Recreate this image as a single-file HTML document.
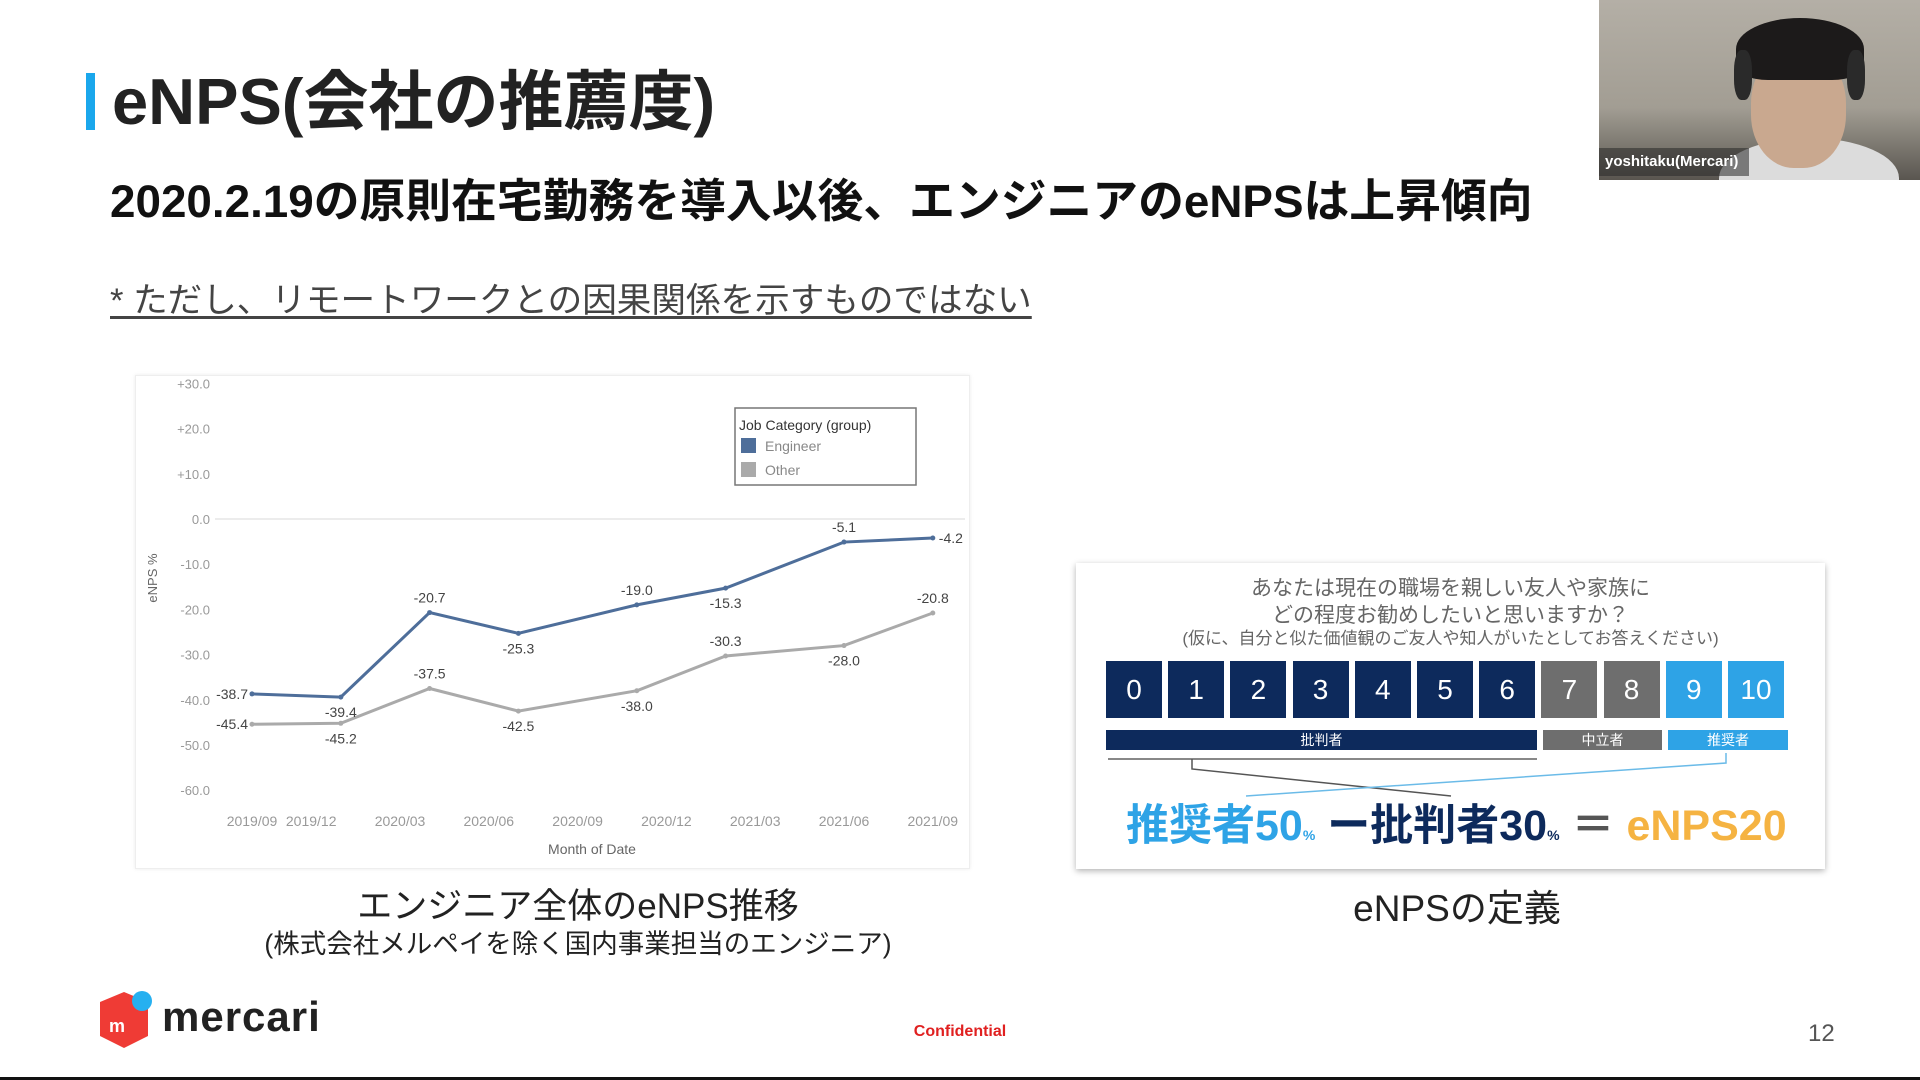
<!DOCTYPE html>
<html><head><meta charset="utf-8">
<style>
*{margin:0;padding:0;box-sizing:border-box}
body{width:1920px;height:1080px;background:#fff;position:relative;overflow:hidden;font-family:"Liberation Sans","Noto Sans CJK JP",sans-serif;color:#222}
.abs{position:absolute}
</style></head><body>
<div class="abs" style="left:86px;top:73px;width:9px;height:57px;background:#1aa7ec"></div>
<div class="abs" style="left:112px;top:64px;font-size:65px;font-weight:bold;color:#222;line-height:76px;white-space:nowrap">eNPS(会社の推薦度)</div>
<div class="abs" style="left:110px;top:174px;font-size:45.8px;font-weight:bold;color:#111;line-height:56px;white-space:nowrap">2020.2.19の原則在宅勤務を導入以後、エンジニアのeNPSは上昇傾向</div>
<div class="abs" style="left:110px;top:280px;font-size:34.6px;color:#444;line-height:42px;white-space:nowrap;text-decoration:underline;text-underline-offset:4px">* ただし、リモートワークとの因果関係を示すものではない</div>

<div class="abs" style="left:135px;top:375px;width:835px;height:494px;border:1px solid #eee;box-shadow:0 0 4px rgba(0,0,0,0.08)"></div>
<svg class="abs" style="left:0;top:0" width="1920" height="1080" id="chart"></svg>

<div class="abs" style="left:228px;top:885px;width:700px;text-align:center;font-size:35px;color:#222;line-height:44px">エンジニア全体のeNPS推移</div>
<div class="abs" style="left:178px;top:928px;width:800px;text-align:center;font-size:26.5px;color:#222;line-height:32px">(株式会社メルペイを除く国内事業担当のエンジニア)</div>

<div class="abs" style="left:1076px;top:563px;width:749px;height:306px;background:#fff;box-shadow:0 2px 6px rgba(0,0,0,0.3)">
  <div class="abs" style="left:0;top:12px;width:749px;text-align:center;font-size:21px;color:#666;line-height:27px">あなたは現在の職場を親しい友人や家族に</div>
  <div class="abs" style="left:0;top:39px;width:749px;text-align:center;font-size:21px;color:#666;line-height:27px">どの程度お勧めしたいと思いますか？</div>
  <div class="abs" style="left:0;top:65px;width:749px;text-align:center;font-size:17px;color:#666;line-height:22px">(仮に、自分と似た価値観のご友人や知人がいたとしてお答えください)</div>
  <div id="scores"></div>
  <div class="abs" style="left:30px;top:167px;width:431px;height:20px;background:#0d2a5c;color:#fff;font-size:14px;text-align:center;line-height:20px">批判者</div>
  <div class="abs" style="left:467px;top:167px;width:119px;height:20px;background:#6e6e6e;color:#fff;font-size:14px;text-align:center;line-height:20px">中立者</div>
  <div class="abs" style="left:592px;top:167px;width:120px;height:20px;background:#2ea3e6;color:#fff;font-size:14px;text-align:center;line-height:20px">推奨者</div>
  <svg class="abs" style="left:0;top:0" width="749" height="306">
    <line x1="32" y1="196" x2="461" y2="196" stroke="#888" stroke-width="2"/>
    <polyline points="116,196 116,206 375,233" fill="none" stroke="#555" stroke-width="1.5"/>
    <polyline points="650,190 650,200 170,233" fill="none" stroke="#6bbbe8" stroke-width="1.5"/>
  </svg>
  <div class="abs" style="left:50px;top:233px;white-space:nowrap;font-size:43px;font-weight:bold;line-height:60px"><span style="color:#2ea3e6">推奨者50<small style="font-size:14px">%</small></span> <span style="color:#0d2a5c">ー批判者30<small style="font-size:14px">%</small></span> <span style="color:#555">＝</span> <span style="color:#f5b342">eNPS20</span></div>
</div>
<div class="abs" style="left:1207px;top:886px;width:500px;text-align:center;font-size:37px;color:#222;line-height:46px">eNPSの定義</div>

<div class="abs" style="left:1599px;top:0;width:321px;height:180px;background:linear-gradient(180deg,#b4afa6,#a29d93 60%,#5a5650);overflow:hidden">
  <div class="abs" style="left:120px;top:138px;width:180px;height:80px;border-radius:50% 50% 0 0;background:#dcdcdc"></div>
  <div class="abs" style="left:152px;top:50px;width:95px;height:118px;border-radius:45%;background:#c9a88f"></div>
  <div class="abs" style="left:137px;top:18px;width:128px;height:62px;border-radius:50% 50% 25% 25%;background:#1c1a1a"></div>
  <div class="abs" style="left:135px;top:50px;width:18px;height:50px;border-radius:40%;background:#2a2a2a"></div>
  <div class="abs" style="left:248px;top:50px;width:18px;height:50px;border-radius:40%;background:#2a2a2a"></div>
  <div class="abs" style="left:0;top:148px;width:150px;height:28px;background:rgba(40,40,40,0.55);color:#fff;font-size:15px;font-weight:bold;line-height:28px;padding-left:6px">yoshitaku(Mercari)</div>
</div>

<div class="abs" style="left:96px;top:990px;width:240px;height:60px">
  <svg width="60" height="60" style="position:absolute;left:0;top:0"><polygon points="28,2 52,12 52,46 28,58 4,46 4,12" fill="#ef3b35"/><circle cx="46" cy="11" r="10" fill="#26b0f0"/><text x="13" y="42" font-size="18" fill="#fff" font-family="Liberation Sans" font-weight="bold">m</text></svg>
  <div class="abs" style="left:66px;top:2px;font-size:42px;font-weight:bold;color:#222;line-height:50px;letter-spacing:1px">mercari</div>
</div>
<div class="abs" style="left:900px;top:1023px;width:120px;text-align:center;font-size:16px;font-weight:bold;color:#e02020">Confidential</div>
<div class="abs" style="left:1808px;top:1020px;font-size:24px;color:#555">12</div>
<div class="abs" style="left:0;top:1077px;width:1920px;height:3px;background:#111"></div>

<script>
const months = [0,3,6,9,13,16,20,23];
const engineer = [-38.7,-39.4,-20.7,-25.3,-19.0,-15.3,-5.1,-4.2];
const other = [-45.4,-45.2,-37.5,-42.5,-38.0,-30.3,-28.0,-20.8];
const yTicks = [30,20,10,0,-10,-20,-30,-40,-50,-60];
const xTickLabels = ['2019/09','2019/12','2020/03','2020/06','2020/09','2020/12','2021/03','2021/06','2021/09'];
const xTickMonths = [0,2,5,8,11,14,17,20,23];

const NS='http://www.w3.org/2000/svg';
const svg=document.getElementById('chart');
const X=m=>252+m*29.6;
const Y=v=>519-v*4.52;
function el(t,a,p){const e=document.createElementNS(NS,t);for(const k in a)e.setAttribute(k,a[k]);(p||svg).appendChild(e);return e;}
yTicks.forEach(v=>{
  const t=el('text',{x:210,y:Y(v)+5,'text-anchor':'end','font-size':13,fill:'#999','font-family':'Liberation Sans'});
  
  
  t.textContent=(v>0?'+':'')+v.toFixed(1);
});
const zl=el('line',{x1:215,x2:965,y1:Y(0),y2:Y(0),stroke:'#e6e6e6','stroke-width':1.5});


xTickLabels.forEach((s,i)=>{
  const t=el('text',{x:X(xTickMonths[i]),y:826,'text-anchor':'middle','font-size':14,fill:'#999','font-family':'Liberation Sans'});
  
  
  t.textContent=s;
});
const xt=el('text',{x:592,y:854,'text-anchor':'middle','font-size':14,fill:'#666','font-family':'Liberation Sans'});


xt.textContent='Month of Date';
const yt=el('text',{x:0,y:0,'text-anchor':'middle','font-size':13,fill:'#666','font-family':'Liberation Sans',transform:'translate(157,578) rotate(-90)'});


yt.textContent='eNPS %';
function series(vals,color,name,pos){
  const pl=el('polyline',{points:vals.map((v,i)=>X(months[i])+','+Y(v)).join(' '),fill:'none',stroke:color,'stroke-width':3});
  
  
  vals.forEach((v,i)=>{
    const c=el('circle',{cx:X(months[i]),cy:Y(v),r:2.5,fill:color});
    
    
    const p=pos[i];
    let dx=0,dy=p==='u'?-10:20,anc='middle';
    if(p==='l'){dx=-4;dy=5;anc='end';}
    if(p==='r'){dx=6;dy=5;anc='start';}
    const t=el('text',{x:X(months[i])+dx,y:Y(v)+dy,'text-anchor':anc,'font-size':14,fill:'#444','font-family':'Liberation Sans'});
    
    
    t.textContent=v.toFixed(1);
  });
}
series(other,'#aaaaaa','other',['l','d','u','d','d','u','d','u']);
series(engineer,'#4e6e9a','engineer',['l','d','u','d','u','d','u','r']);
const lg=el('rect',{x:735,y:408,width:181,height:77,fill:'#fff',stroke:'#777','stroke-width':1.5});


[['Job Category (group)',null,430],['Engineer','#4e6e9a',451],['Other','#aaaaaa',475]].forEach(([s,c,y])=>{
  if(c){const r=el('rect',{x:741,y:y-13,width:15,height:15,fill:c});
    
    }
  const t=el('text',{x:c?765:739,y:y,'font-size':14,fill:c?'#888':'#333','font-family':'Liberation Sans'});
  
  
  t.textContent=s;
});
const sc=document.getElementById('scores');
for(let i=0;i<=10;i++){
  const d=document.createElement('div');
  
  
  d.className='abs';
  const col=i<=6?'#0d2a5c':(i<=8?'#6e6e6e':'#2ea3e6');
  d.style.cssText='left:'+(30+i*62.2)+'px;top:98px;width:56px;height:57px;background:'+col+';color:#fff;font-size:28px;text-align:center;line-height:57px';
  d.textContent=i;
  sc.appendChild(d);
}
</script>
</body></html>
